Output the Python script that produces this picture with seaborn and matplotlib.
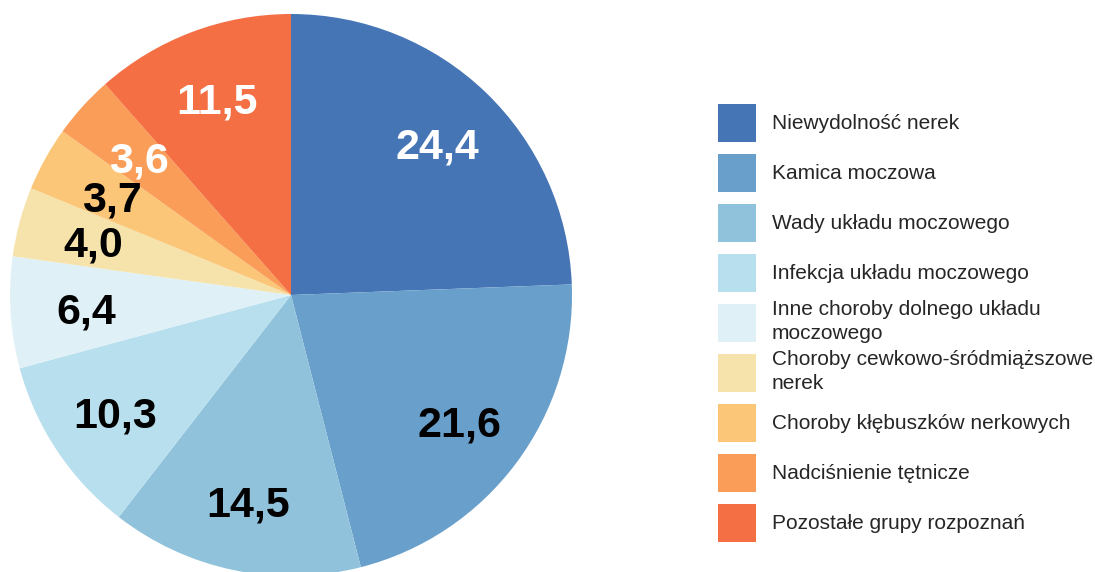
import matplotlib
matplotlib.use('Agg')
import matplotlib.pyplot as plt
from matplotlib.patches import Rectangle
from matplotlib.legend_handler import HandlerPatch
import numpy as np
import seaborn as sns

categories = ['Niewydolność nerek', 'Kamica moczowa', 'Wady układu moczowego',
              'Infekcja układu moczowego', 'Inne choroby dolnego układu\nmoczowego',
              'Choroby cewkowo-śródmiąższowe\nnerek', 'Choroby kłębuszków nerkowych',
              'Nadciśnienie tętnicze', 'Pozostałe grupy rozpoznań']
values = [24.4, 21.6, 14.5, 10.3, 6.4, 4.0, 3.7, 3.6, 11.5]
value_labels = ['24,4', '21,6', '14,5', '10,3', '6,4', '4,0', '3,7', '3,6', '11,5']
colors = ['#4675b6', '#699fcb', '#91c2db', '#b8dfed', '#dff1f7',
          '#f6e3ab', '#fbc677', '#f99d59', '#f46f43']
label_colors = ['white', 'black', 'black', 'black', 'black', 'black', 'black', 'white', 'white']
# small slices have their numbers a bit closer to the centre
label_dist = [0.75, 0.75, 0.75, 0.75, 0.73, 0.73, 0.73, 0.73, 0.75]

sns.set_style('white')
plt.rcParams['font.family'] = ['Liberation Sans', 'DejaVu Sans']

fig = plt.figure(figsize=(10.95, 5.72), dpi=100)
ax = fig.add_axes([10 / 1095, -4 / 572, 562 / 1095, 562 / 572])

wedges, _ = ax.pie(values, colors=colors, startangle=90, counterclock=False,
                   radius=1, wedgeprops=dict(linewidth=0))
for w, lab, c, d in zip(wedges, value_labels, label_colors, label_dist):
    ang = np.deg2rad((w.theta1 + w.theta2) / 2)
    ax.text(d * np.cos(ang), d * np.sin(ang), lab, color=c, fontsize=31,
            fontweight='bold', ha='center', va='center_baseline')
ax.set_xlim(-1, 1)
ax.set_ylim(-1, 1)
ax.set_aspect('equal')
ax.axis('off')


# square swatch, smaller than the row so that all rows are the same height
def swatch(legend, orig_handle, xdescent, ydescent, width, height, fontsize):
    return Rectangle((-xdescent, -ydescent + 0.12 * height), width, 0.76 * height)


leg = fig.legend(wedges, categories, loc='upper left',
                 bbox_to_anchor=(718 / 1095, 1 - 98 / 572),
                 frameon=False, fontsize=15, handlelength=1.82, handleheight=3.315,
                 handletextpad=0.77, labelspacing=0, borderpad=0, borderaxespad=0,
                 handler_map={w: HandlerPatch(patch_func=swatch) for w in wedges})
for t in leg.get_texts():
    t.set_linespacing(1.3)

plt.savefig('out.png', dpi=100)
